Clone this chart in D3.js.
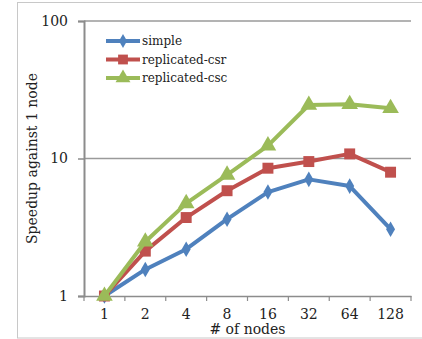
<!DOCTYPE html>
<html><head><meta charset="utf-8">
<script src="https://cdn.jsdelivr.net/npm/d3@7"></script>
<style>body{margin:0;background:#fff}svg{display:block}</style>
</head><body>
<script>
const categories = ["1","2","4","8","16","32","64","128"];
const seriesNames = ["simple","replicated-csr","replicated-csc"];
const simple = [1, 1.56, 2.19, 3.62, 5.7, 7.05, 6.3, 3.06];
const replicatedCsr = [1, 2.12, 3.72, 5.83, 8.5, 9.5, 10.8, 7.95];
const replicatedCsc = [1, 2.48, 4.72, 7.6, 12.4, 24.5, 24.8, 23.2];
const yTicks = [1, 10, 100];

(function () {
const colors = ["#4f81bd", "#c0504d", "#9bbb59"];
const shapes = [d3.symbolDiamond, d3.symbolSquare, d3.symbolTriangle];
const sizes = [70, 120, 120];
const font = "DejaVu Serif";

const W = 422, H = 339;
const svg = d3.select("body").append("svg").attr("width", W).attr("height", H);

svg.append("rect").attr("x", 17.5).attr("y", 2.5).attr("width", 420).attr("height", 335.5)
  .attr("fill", "none").attr("stroke", "#c8c8c8").attr("stroke-width", 1);

const pl = 84, pr = 411, pt = 21, pb = 296;
const x = d3.scaleBand().domain(categories).range([pl, pr]);
const y = d3.scaleLog().domain([1, 100]).range([pb, pt]);

svg.append("g").selectAll("line").data(yTicks.slice(1)).join("line")
  .attr("x1", pl).attr("x2", pr)
  .attr("y1", d => y(d)).attr("y2", d => y(d))
  .attr("stroke", "#9a9a9a").attr("stroke-width", 1.5);

const ya = svg.append("g").attr("transform", `translate(${pl},0)`)
  .call(d3.axisLeft(y).tickValues(yTicks).tickFormat(d3.format("d")).tickSize(6).tickPadding(10));
ya.select(".domain").attr("stroke", "#8c8c8c").attr("stroke-width", 2);
ya.selectAll(".tick line").attr("stroke", "#8c8c8c").attr("stroke-width", 1.5);
ya.selectAll("text").attr("font-family", font).attr("font-size", 14).attr("fill", "#222");

const xa = svg.append("g").attr("transform", `translate(0,${pb})`)
  .call(d3.axisBottom(x).tickSize(0).tickPadding(13));
xa.select(".domain").attr("stroke", "#8c8c8c").attr("stroke-width", 1.5);
xa.selectAll("text").attr("font-family", font).attr("font-size", 14).attr("fill", "#222");
xa.append("g").selectAll("line").data(d3.range(categories.length + 1)).join("line")
  .attr("x1", i => pl + i * x.step()).attr("x2", i => pl + i * x.step())
  .attr("y1", 0).attr("y2", 5).attr("stroke", "#8c8c8c").attr("stroke-width", 1.2);

svg.append("text").attr("transform", `translate(37,${(pt + pb) / 2}) rotate(-90)`)
  .attr("text-anchor", "middle").attr("font-family", font).attr("font-size", 14).attr("fill", "#222")
  .text("Speedup against 1 node");
svg.append("text").attr("x", (pl + pr) / 2).attr("y", 334)
  .attr("text-anchor", "middle").attr("font-family", font).attr("font-size", 14).attr("fill", "#222")
  .text("# of nodes");

const data = [simple, replicatedCsr, replicatedCsc];
const line = d3.line().x((d, i) => x(categories[i]) + x.bandwidth() / 2).y(d => y(d));

data.forEach((vals, s) => {
  const g = svg.append("g");
  g.append("path").datum(vals).attr("d", line).attr("fill", "none")
    .attr("stroke", colors[s]).attr("stroke-width", 4).attr("stroke-linejoin", "round");
  g.selectAll("path.m").data(vals).join("path").attr("class", "m")
    .attr("transform", (d, i) => `translate(${x(categories[i]) + x.bandwidth() / 2},${y(d)})`)
    .attr("d", d3.symbol().type(shapes[s]).size(sizes[s])).attr("fill", colors[s]);
});

const lg = svg.append("g");
seriesNames.forEach((n, i) => {
  const ly = 41 + i * 18.5;
  lg.append("line").attr("x1", 106).attr("x2", 140).attr("y1", ly).attr("y2", ly)
    .attr("stroke", colors[i]).attr("stroke-width", 4);
  lg.append("path").attr("transform", `translate(123,${ly})`)
    .attr("d", d3.symbol().type(shapes[i]).size(sizes[i] * 0.8)).attr("fill", colors[i]);
  lg.append("text").attr("x", 142).attr("y", ly + 4).attr("font-family", font).attr("font-size", 12)
    .attr("fill", "#222").text(n);
});
})();
</script>
</body></html>
